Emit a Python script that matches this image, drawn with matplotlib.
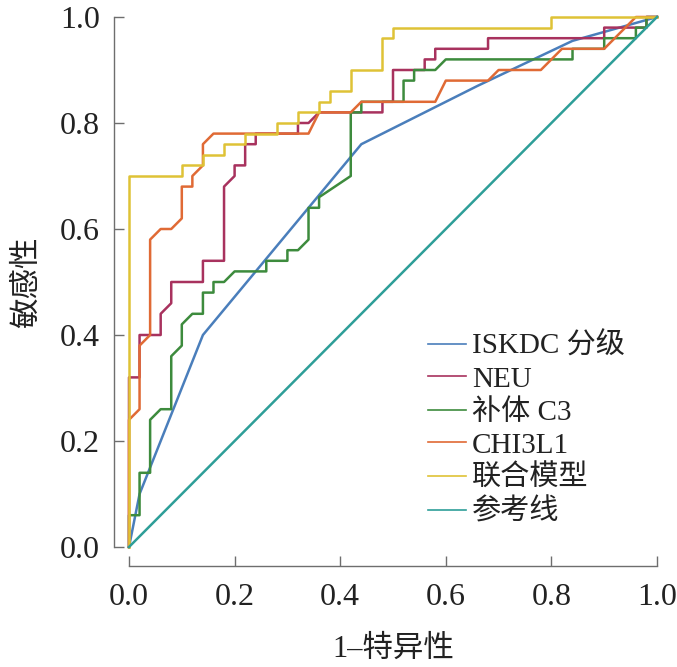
import matplotlib
matplotlib.use("Agg")
import matplotlib.pyplot as plt

# ROC 曲线数据 (1-特异性, 敏感性)
iskdc_fpr = [0, 0.02, 0.14, 0.44, 0.66, 0.84, 1.0]
iskdc_tpr = [0, 0.10, 0.40, 0.76, 0.87, 0.955, 1.0]

neu_fpr = [0, 0, 0.02, 0.02, 0.06, 0.06, 0.08, 0.08, 0.14, 0.14, 0.18, 0.18, 0.20, 0.20,
           0.22, 0.22, 0.24, 0.24, 0.32, 0.32, 0.34, 0.36, 0.48, 0.48, 0.50, 0.50, 0.56,
           0.56, 0.58, 0.58, 0.68, 0.68, 0.90, 0.90, 0.98, 0.98, 1.0]
neu_tpr = [0, 0.32, 0.32, 0.40, 0.40, 0.44, 0.46, 0.50, 0.50, 0.54, 0.54, 0.68, 0.70, 0.72,
           0.72, 0.76, 0.76, 0.78, 0.78, 0.80, 0.80, 0.82, 0.82, 0.84, 0.84, 0.90, 0.90,
           0.92, 0.92, 0.94, 0.94, 0.96, 0.96, 0.98, 0.98, 1.0, 1.0]

c3_fpr = [0, 0, 0.02, 0.02, 0.04, 0.04, 0.06, 0.08, 0.08, 0.10, 0.10, 0.12, 0.14, 0.14,
          0.16, 0.16, 0.18, 0.20, 0.26, 0.26, 0.30, 0.30, 0.32, 0.34, 0.34, 0.36, 0.36,
          0.42, 0.42, 0.44, 0.44, 0.52, 0.52, 0.54, 0.54, 0.58, 0.60, 0.84, 0.84, 0.90,
          0.90, 0.96, 0.96, 0.98, 0.98, 1.0]
c3_tpr = [0, 0.06, 0.06, 0.14, 0.14, 0.24, 0.26, 0.26, 0.36, 0.38, 0.42, 0.44, 0.44, 0.48,
          0.48, 0.50, 0.50, 0.52, 0.52, 0.54, 0.54, 0.56, 0.56, 0.58, 0.64, 0.64, 0.66,
          0.70, 0.82, 0.82, 0.84, 0.84, 0.88, 0.88, 0.90, 0.90, 0.92, 0.92, 0.94, 0.94,
          0.96, 0.96, 0.98, 0.98, 1.0, 1.0]

chi_fpr = [0, 0, 0.02, 0.02, 0.04, 0.04, 0.06, 0.08, 0.10, 0.10, 0.12, 0.12, 0.14, 0.14,
           0.16, 0.34, 0.36, 0.42, 0.44, 0.58, 0.60, 0.68, 0.70, 0.78, 0.82, 0.90, 0.96, 1.0]
chi_tpr = [0, 0.24, 0.26, 0.38, 0.40, 0.58, 0.60, 0.60, 0.62, 0.68, 0.68, 0.70, 0.72, 0.76,
           0.78, 0.78, 0.82, 0.82, 0.84, 0.84, 0.88, 0.88, 0.90, 0.90, 0.94, 0.94, 1.0, 1.0]

combo_fpr = [0, 0, 0.10, 0.10, 0.14, 0.14, 0.18, 0.18, 0.22, 0.22, 0.28, 0.28, 0.32, 0.32,
             0.36, 0.36, 0.38, 0.38, 0.42, 0.42, 0.48, 0.48, 0.50, 0.50, 0.80, 0.80, 1.0]
combo_tpr = [0, 0.70, 0.70, 0.72, 0.72, 0.74, 0.74, 0.76, 0.76, 0.78, 0.78, 0.80, 0.80, 0.82,
             0.82, 0.84, 0.84, 0.86, 0.86, 0.90, 0.90, 0.96, 0.96, 0.98, 0.98, 1.0, 1.0]

ref_fpr = [0, 1]
ref_tpr = [0, 1]

labels = ["ISKDC 分级", "NEU", "补体 C3", "CHI3L1", "联合模型", "参考线"]
colors = ["#4a7ebb", "#a8325e", "#3d8b3d", "#e06a35", "#dfc236", "#2e9e98"]

series = [(iskdc_fpr, iskdc_tpr), (neu_fpr, neu_tpr), (c3_fpr, c3_tpr),
          (chi_fpr, chi_tpr), (combo_fpr, combo_tpr), (ref_fpr, ref_tpr)]

serif_cjk = ["Liberation Serif", "Noto Sans CJK SC"]

fig = plt.figure(figsize=(6.77, 6.67), dpi=100)
ax = fig.add_axes([129 / 677, 1 - 547 / 667, 528 / 677, 530 / 667])

for (fx, ty), lab, col in zip(series, labels, colors):
    ax.plot(fx, ty, color=col, lw=1.8, label=lab, clip_on=False)

# 坐标轴外移 (先设位置，再设刻度，否则刻度会被重置)
for s in ["top", "right"]:
    ax.spines[s].set_visible(False)
ax.spines["left"].set_position(("outward", 11))
ax.spines["bottom"].set_position(("outward", 14))

ax.set_xlim(0, 1)
ax.set_ylim(0, 1)
ticks = [0, 0.2, 0.4, 0.6, 0.8, 1.0]
ax.set_xticks(ticks)
ax.set_yticks(ticks)
ax.set_xticklabels(["%.1f" % t for t in ticks], family="Liberation Serif", fontsize=23)
ax.set_yticklabels(["%.1f" % t for t in ticks], family="Liberation Serif", fontsize=23)

ax.spines["left"].set_bounds(0, 1)
ax.spines["bottom"].set_bounds(0, 1)
for s in ["left", "bottom"]:
    ax.spines[s].set_color("#6e6e6e")
    ax.spines[s].set_linewidth(1.0)
ax.tick_params(direction="in", length=7, width=1.0, color="#6e6e6e",
               labelcolor="#222222")
ax.tick_params(axis="y", pad=10)
ax.tick_params(axis="x", pad=12)

ax.set_xlabel("1–特异性", family=serif_cjk, fontsize=22, color="#222222", labelpad=16)
ax.set_ylabel("敏感性", family=serif_cjk, fontsize=22, color="#222222", labelpad=13)

leg = ax.legend(loc="lower left", bbox_to_anchor=(0.545, 0.018), frameon=False,
                prop={"family": serif_cjk, "size": 21}, handlelength=1.3,
                handletextpad=0.2, labelspacing=0.22, borderaxespad=0)
for line in leg.get_lines():
    line.set_linewidth(1.2)
for t in leg.get_texts():
    t.set_color("#222222")

fig.savefig("out.png", dpi=100)
